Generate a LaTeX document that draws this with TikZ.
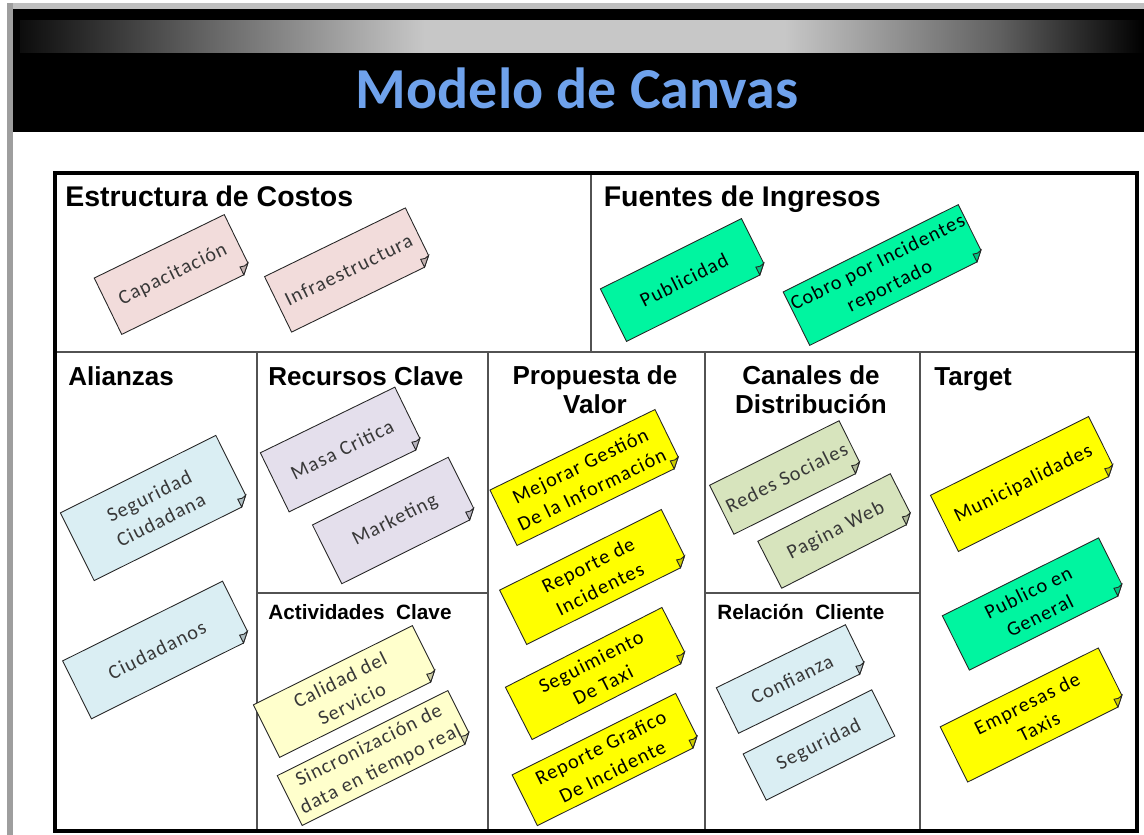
\documentclass[tikz,border=0pt]{standalone}
\usepackage{fontspec}
\setmainfont{Carlito}
\newfontfamily\boxfont{Liberation Sans}
\newfontfamily\notefont[LetterSpace=6]{Carlito}
\usepackage{tikz}
\usetikzlibrary{calc}

\definecolor{titleblue}{HTML}{6FA2EC}
\definecolor{pinkn}{HTML}{F2DCDB}
\definecolor{mintn}{HTML}{00F5A0}
\definecolor{bluen}{HTML}{DAEEF3}
\definecolor{lilacn}{HTML}{E4DFEC}
\definecolor{creamn}{HTML}{FFFFCC}
\definecolor{yellown}{HTML}{FFFF00}
\definecolor{sagen}{HTML}{D7E4BD}

\pgfdeclarelayer{grid}
\pgfdeclarelayer{paper}
\pgfsetlayers{grid,paper,main}
\pgfdeclarehorizontalshading{bandshade}{100bp}{color(0bp)=(black); color(25bp)=(black!95);
  color(33bp)=(black!62); color(43bp)=(black!22); color(59bp)=(black!22); color(68.5bp)=(black!62);
  color(75bp)=(black); color(100bp)=(black)}

\begin{document}
\begin{tikzpicture}[x=0.02cm, y=-0.02cm,
    banner/.style={font=\bfseries\fontsize{33}{36}\selectfont, text=titleblue, inner sep=0pt, anchor=base},
    area/.style={font=\boxfont\bfseries\fontsize{14.8}{16}\selectfont, inner sep=0pt, anchor=base west},
    areabig/.style={area, font=\boxfont\bfseries\fontsize{16.2}{18}\selectfont},
    areasmall/.style={area, font=\boxfont\bfseries\fontsize{11.8}{14}\selectfont},
    areamid/.style={area, anchor=base, align=center},
    note/.style={inner sep=0pt, align=center, text=black!78, font=\notefont\fontsize{11.5}{15}\selectfont},
    bright/.style={note, text=black},
    paperline/.style={draw=black!85, line width=0.5pt},
    divider/.style={draw=black!68, line width=0.04cm},
  ]
  \useasboundingbox (0,0) rectangle (1144,835);

  % cabecera y cuadricula del lienzo
  \begin{pgfonlayer}{grid}
    \fill[black!25] (7,3) rectangle (1144,9);
    \fill[black!38] (7,3) rectangle (13,835);
    \fill[black] (13,9) rectangle (1144,132);
    \shade[shading=bandshade] (20,20) rectangle (1144,52);
    \draw[divider] (55,352) -- (1137,352);
    \draw[divider] (591,173) -- (591,352);
    \foreach \x in {257,488,705,920}
      \draw[divider] (\x,352) -- (\x,831);
    \draw[divider] (257,593) -- (488,593);
    \draw[divider] (705,593) -- (920,593);
    \draw[line width=0.08cm] (55,173) rectangle (1137,831);
  \end{pgfonlayer}

  \node[banner] (title) at (577,108) {Modelo de Canvas};

  \node[areabig] (costos) at (65,206.7) {Estructura de Costos};
  \node[areabig] (ingresos) at (603.5,206.7) {Fuentes de Ingresos};
  \node[area] (alianzas) at (68,385) {Alianzas};
  \node[area] (recursos) at (268,385) {Recursos Clave};
  \node[areamid] (propuesta) at (595,413) {Propuesta de\\Valor};
  \node[areamid] (canales) at (811,413) {Canales de\\Distribución};
  \node[area] (target) at (934,385) {Target};
  \node[areasmall] (activ) at (268,619) {Actividades~~Clave};
  \node[areasmall] (relacion) at (717,619) {Relación~~Cliente};

  % notas
  \node[note, rotate=26, minimum width=2.88cm, minimum height=1.24cm] (cap) at (173,274.5) {Capacitación};
  \node[note, rotate=26, minimum width=3.12cm, minimum height=1.22cm] (infra) at (348.5,270) {Infraestructura};
  \node[bright, rotate=26.5, minimum width=3.14cm, minimum height=1.16cm] (publi) at (684,280) {Publicidad};
  \node[bright, rotate=26.5, minimum width=3.90cm, minimum height=1.18cm] (cobro) at (884,275) {Cobro por Incidentes\\reportado};
  \node[note, rotate=26.5, minimum width=3.46cm, minimum height=1.50cm] (segciu) at (155,508) {Seguridad\\Ciudadana};
  \node[note, rotate=26.5, minimum width=3.56cm, minimum height=1.28cm] (ciuda) at (157,650) {Ciudadanos};
  \node[note, rotate=26, minimum width=2.98cm, minimum height=1.30cm] (masa) at (342,449.5) {Masa Critica};
  \node[note, rotate=26.5, minimum width=3.02cm, minimum height=1.30cm] (mkt) at (395,520.5) {Marketing};
  \node[note, rotate=26.5, minimum width=3.54cm, minimum height=1.16cm] (calidad) at (346,691.5) {Calidad del\\Servicio};
  \node[note, rotate=26.5, minimum width=3.80cm, minimum height=1.10cm] (sincro) at (375,758) {Sincronización de\\data en tiempo real};
  \node[bright, rotate=26, minimum width=3.66cm, minimum height=1.22cm] (mejora) at (586,477.5) {Mejorar Gestión\\De la Información};
  \node[bright, rotate=26.5, minimum width=3.60cm, minimum height=1.20cm] (repinc) at (594,577) {Reporte de\\Incidentes};
  \node[bright, rotate=27, minimum width=3.50cm, minimum height=1.16cm] (seguim) at (597,673.5) {Seguimiento\\De Taxi};
  \node[bright, rotate=26.5, minimum width=3.64cm, minimum height=1.12cm] (repgraf) at (606.5,759.5) {Reporte Grafico\\De Incidente};
  \node[note, rotate=26.5, minimum width=2.88cm, minimum height=1.08cm] (redes) at (786.5,477.5) {Redes Sociales};
  \node[note, rotate=27, minimum width=2.96cm, minimum height=1.04cm] (web) at (836,531) {Pagina Web};
  \node[note, rotate=26, minimum width=2.86cm, minimum height=1.00cm] (confi) at (792,679) {Confianza};
  \node[note, rotate=26.5, minimum width=2.86cm, minimum height=1.02cm] (segur) at (819,745) {Seguridad};
  \node[bright, rotate=26.5, minimum width=3.52cm, minimum height=1.24cm] (muni) at (1023.5,484) {Municipalidades};
  \node[bright, rotate=26.5, minimum width=3.48cm, minimum height=1.20cm] (pubgen) at (1034,604) {Publico en\\General};
  \node[bright, rotate=26.5, minimum width=3.52cm, minimum height=1.22cm] (empresa) at (1033,715) {Empresas de\\Taxis};

  % papel con esquina doblada
  \begin{pgfonlayer}{paper}
    \foreach \n/\c in {cap/pinkn, infra/pinkn, publi/mintn, cobro/mintn, segciu/bluen, ciuda/bluen,
        masa/lilacn, mkt/lilacn, calidad/creamn, sincro/creamn, mejora/yellown, repinc/yellown,
        seguim/yellown, repgraf/yellown, redes/sagen, web/sagen, confi/bluen,
        muni/yellown, pubgen/mintn, empresa/yellown} {
      \coordinate (e1) at ($(\n.south east)!5pt!(\n.north east)$);
      \coordinate (s1) at ($(\n.south east)!5pt!(\n.south west)$);
      \filldraw[paperline, fill=\c] (\n.north west) -- (\n.north east) -- (e1) -- (s1) -- (\n.south west) -- cycle;
      \filldraw[paperline, fill=\c!80!black] (e1) to[bend left=25] ($(e1)+(s1)-(\n.south east)$) -- (s1) -- cycle;
    }
    \filldraw[paperline, fill=bluen] (segur.north west) -- (segur.north east) -- (segur.south east) -- (segur.south west) -- cycle;
  \end{pgfonlayer}
\end{tikzpicture}
\end{document}
